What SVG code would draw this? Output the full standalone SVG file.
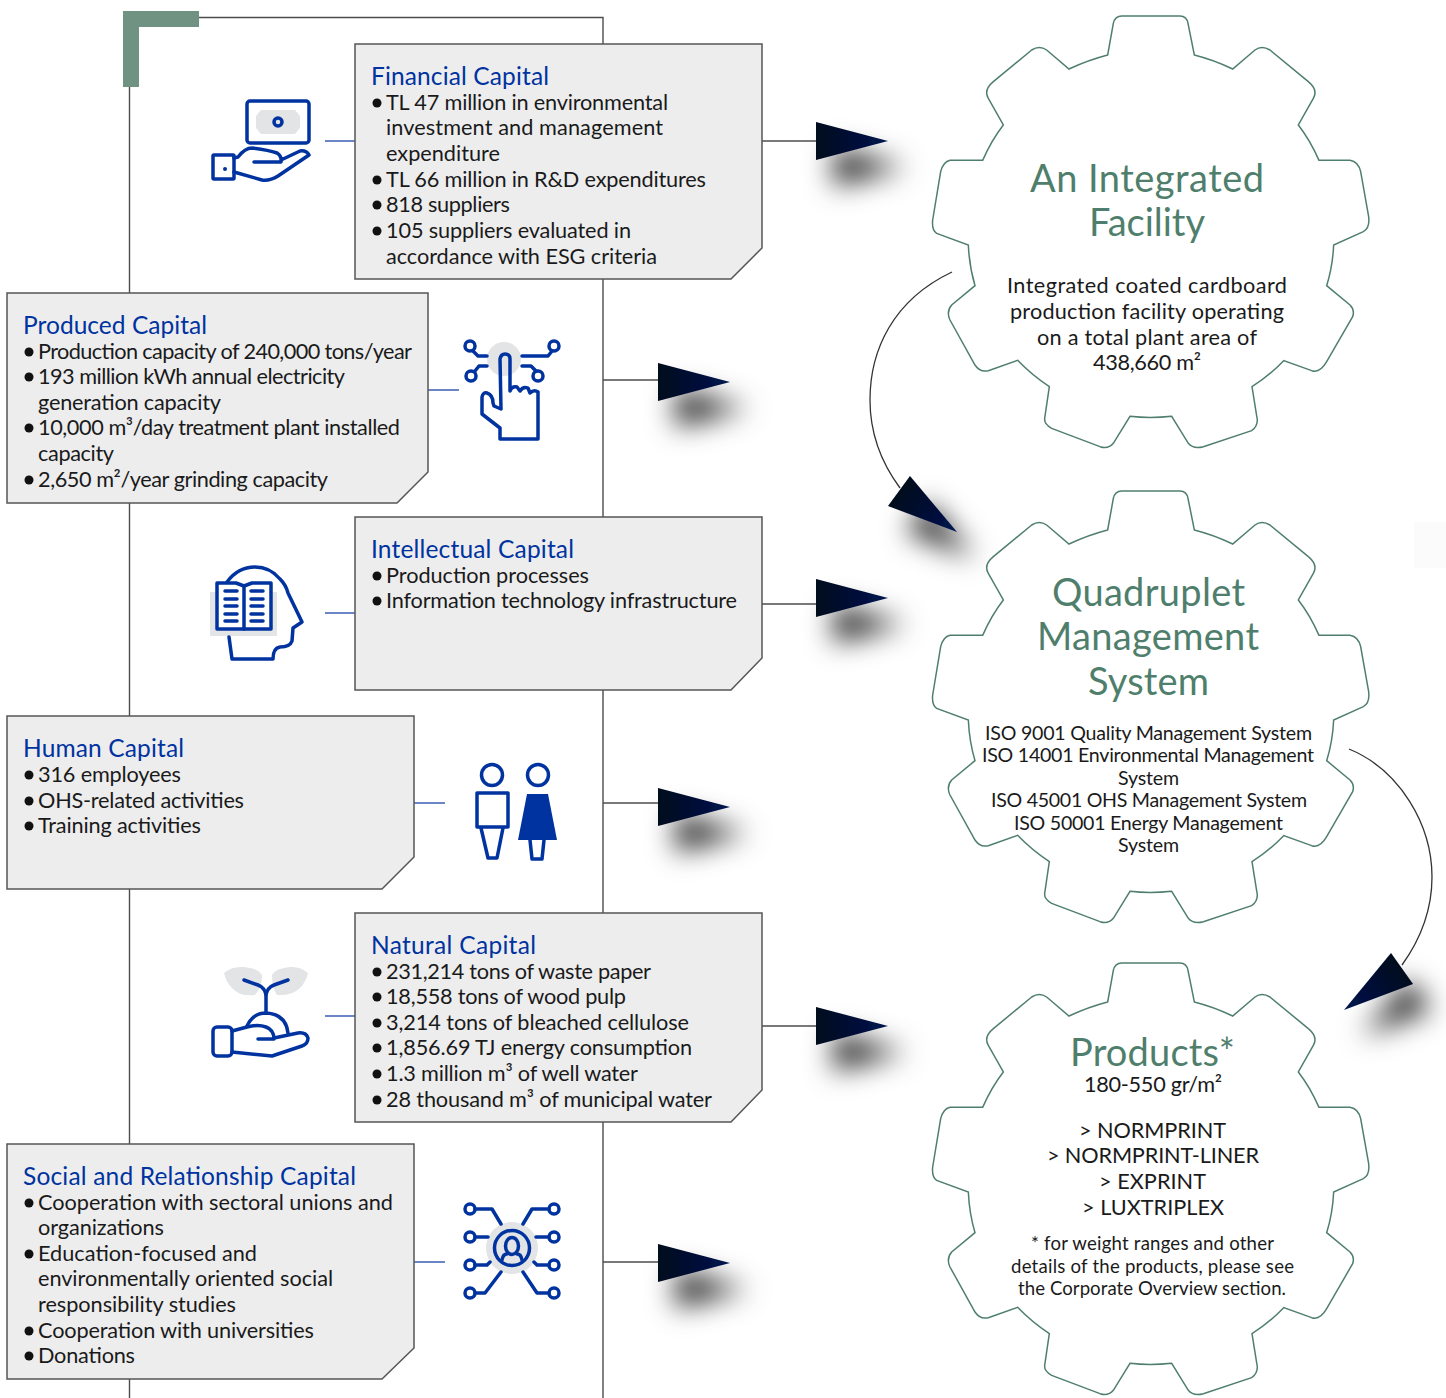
<svg xmlns="http://www.w3.org/2000/svg" xmlns:xlink="http://www.w3.org/1999/xlink" width="1446" height="1398" viewBox="0 0 1446 1398">
<style>
text{font-family:"Lato","Open Sans","Liberation Sans",sans-serif;fill:#1a1a1a;}
.t{font-size:24.5px;fill:#0033a0;}
.l{font-size:21.7px;}
.h{font-size:38px;fill:#4f7f6c;}
.m{font-size:21.7px;}
.s{font-size:19.6px;}
.x{font-size:18.6px;}
.box{fill:#ededee;stroke:#555;stroke-width:1.5;}
.gear{fill:#fff;stroke:#4f7f6c;stroke-width:4.5;}
.i{fill:none;stroke:#0033a0;stroke-width:3.5;stroke-linecap:round;stroke-linejoin:round;}
.iw{fill:#fff;stroke:#0033a0;stroke-width:3.5;stroke-linejoin:round;}
.g{fill:#e3e4e6;}
.v{fill:none;stroke:#4d4d4d;stroke-width:1.4;}
.b1{fill:none;stroke:#3a5fb5;stroke-width:1.5;}
.c{fill:none;stroke:#333;stroke-width:1.3;}
.b{fill:#111;}
</style>
<defs>
<linearGradient id="ag" x1="0" y1="0" x2="1" y2="0"><stop offset="0" stop-color="#00071c"/><stop offset="1" stop-color="#001550"/></linearGradient>
<linearGradient id="ag2" gradientUnits="userSpaceOnUse" x1="900" y1="490" x2="957" y2="532"><stop offset="0" stop-color="#00071c"/><stop offset="1" stop-color="#001550"/></linearGradient>
<linearGradient id="ag3" gradientUnits="userSpaceOnUse" x1="1400" y1="965" x2="1344" y2="1010"><stop offset="0" stop-color="#00071c"/><stop offset="1" stop-color="#001550"/></linearGradient>
<filter id="sh" x="-100%" y="-120%" width="320%" height="380%"><feDropShadow dx="18" dy="26" stdDeviation="14" flood-color="#000" flood-opacity=".85"/></filter>
<polygon id="ah" points="0,0 0,38 72,19" fill="url(#ag)" filter="url(#sh)"/>
<path id="gp" d="M563,165 L580,70 Q585,48 605,48 L780,48 Q800,48 804,70 L823,165 Q882,180 938,207 L1005,150 Q1025,135 1050,150 L1165,245 Q1195,270 1180,295 L1135,375 Q1170,420 1197,481 L1290,481 Q1315,485 1322,515 L1346,650 Q1350,685 1330,695 L1241,735 Q1238,800 1220,857 L1290,915 Q1305,930 1298,950 L1220,1085 Q1200,1120 1175,1112 L1091,1082 Q1050,1125 996,1160 L1012,1260 Q1012,1280 995,1292 L850,1340 Q820,1348 805,1330 L755,1249 Q690,1256 630,1249 L580,1330 Q565,1348 540,1340 L395,1285 Q372,1272 374,1255 L388,1160 Q335,1125 293,1081 L205,1112 Q180,1118 165,1095 L90,960 Q78,935 95,915 L165,857 Q148,800 145,735 L50,700 Q35,690 38,660 L62,515 Q70,485 90,481 L188,481 Q215,420 250,375 L205,295 Q190,270 220,245 L335,150 Q358,135 380,150 L447,207 Q505,180 563,165 Z"/>
</defs>

<rect x="1414" y="522" width="32" height="46" fill="#fbfbfb"/>

<g id="connectors">
<path class="v" d="M129.5,87V1398M199,17.5H603V1398"/>
<path class="v" d="M762,141H816M603,380H658M762,604H816M603,803H658M762,1026H816M603,1262H658"/>
<path class="b1" d="M325,141H355M428,390H459M325,613H355M414,803H445M325,1016H355M414,1262H445"/>
<path class="c" d="M952,272C893,300 870,350 870,400C870,435 883,465 900,488"/>
<path class="c" d="M1349,749C1400,770 1432,825 1432,877C1432,910 1420,940 1402,965"/>
<use xlink:href="#ah" href="#ah" x="816" y="122"/>
<use xlink:href="#ah" href="#ah" x="658" y="363"/>
<use xlink:href="#ah" href="#ah" x="816" y="579"/>
<use xlink:href="#ah" href="#ah" x="658" y="788"/>
<use xlink:href="#ah" href="#ah" x="816" y="1007"/>
<use xlink:href="#ah" href="#ah" x="658" y="1244"/>
<polygon points="910,476 888,506 957,532" fill="url(#ag2)" filter="url(#sh)"/>
<polygon points="1391,953 1413,984 1344,1010" fill="url(#ag3)" filter="url(#sh)"/>
</g>

<polygon id="corner" points="123,11 199,11 199,27 139,27 139,87 123,87" fill="#6f9282"/>

<g id="financial-capital">
<polygon class="box" points="355,44 762,44 762,248 731,279 355,279"/>
<text class="t" x="371" y="84.5" textLength="178">Financial Capital</text>
<circle class="b" cx="377" cy="103" r="4.5"/><circle class="b" cx="377" cy="180" r="4.5"/><circle class="b" cx="377" cy="205" r="4.5"/><circle class="b" cx="377" cy="231" r="4.5"/>
<text class="l" x="386" y="110.3" textLength="282">TL 47 million in environmental</text>
<text class="l" x="386" y="135.3" textLength="277">investment and management</text>
<text class="l" x="386" y="161.3" textLength="114">expenditure</text>
<text class="l" x="386" y="187.3" textLength="320">TL 66 million in R&amp;D expenditures</text>
<text class="l" x="386" y="212.3" textLength="124">818 suppliers</text>
<text class="l" x="386" y="238.3" textLength="245">105 suppliers evaluated in</text>
<text class="l" x="386" y="264.3" textLength="271">accordance with ESG criteria</text>
</g>
<g id="icon-financial">
<rect class="i" x="247" y="101" width="62" height="42" rx="3"/>
<polygon class="g" points="261,110 295,110 300,116 300,128 295,134 261,134 256,128 256,116"/>
<circle class="i" cx="278" cy="122" r="4"/>
<rect class="i" x="213" y="155" width="21" height="24" rx="1"/>
<circle cx="225" cy="169" r="2" fill="#0033a0"/>
<path class="i" d="M234,158L238,157Q245,148 252,148Q268,150 277,153Q282,156 281,162H254M281,160L300,151Q306,150 309,155L278,176Q270,181 262,180L234,172"/>
</g>

<g id="produced-capital">
<polygon class="box" points="7,293 428,293 428,472 397,503 7,503"/>
<text class="t" x="23" y="333.5" textLength="184">Produced Capital</text>
<circle class="b" cx="29" cy="352" r="4.5"/><circle class="b" cx="29" cy="377" r="4.5"/><circle class="b" cx="29" cy="428" r="4.5"/><circle class="b" cx="29" cy="480" r="4.5"/>
<text class="l" x="38" y="359.3" textLength="374">Production capacity of 240,000 tons/year</text>
<text class="l" x="38" y="384.3" textLength="307">193 million kWh annual electricity</text>
<text class="l" x="38" y="410.3" textLength="183">generation capacity</text>
<text class="l" x="38" y="435.3" textLength="362">10,000 m³/day treatment plant installed</text>
<text class="l" x="38" y="461.3" textLength="76">capacity</text>
<text class="l" x="38" y="487.3" textLength="290">2,650 m²/year grinding capacity</text>
</g>
<g id="icon-produced" transform="translate(0,1)">
<circle class="g" cx="504" cy="358" r="17"/>
<circle class="i" cx="470" cy="345" r="5"/><circle class="i" cx="554" cy="345" r="5"/><circle class="i" cx="471" cy="375" r="5"/><circle class="i" cx="538" cy="375" r="5"/>
<path class="i" d="M473,350L478,355H487M522,355H548L552,350M475,370L479,365H487M522,365H531L536,370"/>
<path class="i" d="M501,408L500,358Q501,353 505,353Q510,353 510,358L510,390Q512,385 517,386L520,390Q523,385 528,387L530,392Q534,388 538,391V438H500V427L482,413V396Q483,391 487,392Q493,394 493,402L494,405L501,408"/>
</g>

<g id="intellectual-capital">
<polygon class="box" points="355,517 762,517 762,658 731,690 355,690"/>
<text class="t" x="371" y="557.5" textLength="203">Intellectual Capital</text>
<circle class="b" cx="377" cy="576" r="4.5"/><circle class="b" cx="377" cy="601" r="4.5"/>
<text class="l" x="386" y="583.3" textLength="203">Production processes</text>
<text class="l" x="386" y="608.3" textLength="351">Information technology infrastructure</text>
</g>
<g id="icon-intellectual" transform="translate(0,1)">
<rect class="g" x="210" y="591" width="67" height="44"/>
<path class="i" d="M227,581Q238,566 255,566Q270,566 280,578Q286,584 288,592L302,621L293,627L292,640Q290,646 280,646Q273,647 273,658H232L229,636"/>
<path class="iw" d="M217,582H236L244,585L252,582H271V628H217Z"/>
<path class="i" d="M244,585V628M225,590H237M225,598H237M225,605H237M225,613H237M225,620H237M251,590H263M251,598H263M251,605H263M251,613H263M251,620H263"/>
</g>

<g id="human-capital">
<polygon class="box" points="7,716 414,716 414,857 382,889 7,889"/>
<text class="t" x="23" y="757" textLength="161">Human Capital</text>
<circle class="b" cx="29" cy="775" r="4.5"/><circle class="b" cx="29" cy="801" r="4.5"/><circle class="b" cx="29" cy="826" r="4.5"/>
<text class="l" x="38" y="782.3" textLength="143">316 employees</text>
<text class="l" x="38" y="808.3" textLength="206">OHS-related activities</text>
<text class="l" x="38" y="833.3" textLength="163">Training activities</text>
</g>
<g id="icon-human" transform="translate(0,1)">
<circle class="i" cx="492" cy="774" r="10.5"/><circle class="i" cx="538" cy="774" r="10.5"/>
<rect class="i" x="477" y="792" width="31" height="34"/>
<path class="i" d="M481,827L488,857H497L503,827"/>
<polygon points="527,793 548,793 557,839 518,839" fill="#0033a0"/>
<path class="i" d="M530,839L532,858H542L544,839"/>
</g>

<g id="natural-capital">
<polygon class="box" points="355,913 762,913 762,1090 731,1122 355,1122"/>
<text class="t" x="371" y="953.5" textLength="165">Natural Capital</text>
<circle class="b" cx="377" cy="972" r="4.5"/><circle class="b" cx="377" cy="997" r="4.5"/><circle class="b" cx="377" cy="1023" r="4.5"/><circle class="b" cx="377" cy="1048" r="4.5"/><circle class="b" cx="377" cy="1074" r="4.5"/><circle class="b" cx="377" cy="1100" r="4.5"/>
<text class="l" x="386" y="979.3" textLength="265">231,214 tons of waste paper</text>
<text class="l" x="386" y="1004.3" textLength="240">18,558 tons of wood pulp</text>
<text class="l" x="386" y="1030.3" textLength="303">3,214 tons of bleached cellulose</text>
<text class="l" x="386" y="1055.3" textLength="306">1,856.69 TJ energy consumption</text>
<text class="l" x="386" y="1081.3" textLength="252">1.3 million m³ of well water</text>
<text class="l" x="386" y="1107.3" textLength="326">28 thousand m³ of municipal water</text>
</g>
<g id="icon-natural">
<path class="g" d="M224,973Q232,966 243,967Q258,968 262,975Q262,988 255,995Q240,997 232,988Q226,982 224,973Z"/>
<path class="g" d="M308,973Q300,966 290,967Q276,968 272,975Q272,988 277,995Q292,996 300,988Q306,982 308,973Z"/>
<path class="i" d="M266,1013V997Q266,988 258,985L244,980M266,997Q266,988 274,985L288,980"/>
<path class="i" d="M247,1026Q253,1013 266,1013Q286,1014 288,1033"/>
<rect class="i" x="213" y="1027" width="19" height="29" rx="4"/>
<path class="i" d="M232,1031L247,1027Q258,1024 266,1027Q274,1030 274,1039H258M274,1038L298,1033Q306,1032 308,1038Q308,1044 302,1046L272,1056L232,1052"/>
</g>

<g id="social-capital">
<polygon class="box" points="7,1144 414,1144 414,1348 382,1379 7,1379"/>
<text class="t" x="23" y="1184.5" textLength="333">Social and Relationship Capital</text>
<circle class="b" cx="29" cy="1203" r="4.5"/><circle class="b" cx="29" cy="1254" r="4.5"/><circle class="b" cx="29" cy="1331" r="4.5"/><circle class="b" cx="29" cy="1356" r="4.5"/>
<text class="l" x="38" y="1210.3" textLength="355">Cooperation with sectoral unions and</text>
<text class="l" x="38" y="1235.3" textLength="126">organizations</text>
<text class="l" x="38" y="1261.3" textLength="219">Education-focused and</text>
<text class="l" x="38" y="1286.3" textLength="295">environmentally oriented social</text>
<text class="l" x="38" y="1312.3" textLength="198">responsibility studies</text>
<text class="l" x="38" y="1338.3" textLength="276">Cooperation with universities</text>
<text class="l" x="38" y="1363.3" textLength="97">Donations</text>
</g>
<g id="icon-social">
<circle class="g" cx="512" cy="1248" r="26"/>
<circle class="i" cx="512" cy="1248" r="17.5"/>
<ellipse class="i" cx="512" cy="1246" rx="6.5" ry="8.5"/>
<path class="i" d="M502,1260Q503,1254 507,1254M522,1260Q521,1254 517,1254"/>
<circle class="i" cx="470" cy="1209" r="5"/><circle class="i" cx="470" cy="1237" r="5"/><circle class="i" cx="470" cy="1265" r="5"/><circle class="i" cx="470" cy="1293" r="5"/>
<circle class="i" cx="554" cy="1209" r="5"/><circle class="i" cx="554" cy="1237" r="5"/><circle class="i" cx="554" cy="1265" r="5"/><circle class="i" cx="554" cy="1293" r="5"/>
<path class="i" d="M475,1209H492L501,1224M549,1209H532L523,1224M475,1237H488M549,1237H536M475,1265H487L490,1262M549,1265H537L534,1262M475,1293H485L501,1272M549,1293H537L523,1272"/>
</g>

<g id="integrated-facility">
<use xlink:href="#gp" href="#gp" class="gear" transform="translate(920,0) scale(.33333)"/>
<text class="h" x="1030" y="192" textLength="234">An Integrated</text>
<text class="h" x="1089" y="236" textLength="116">Facility</text>
<text class="m" x="1007" y="293" textLength="280">Integrated coated cardboard</text>
<text class="m" x="1010" y="319" textLength="274">production facility operating</text>
<text class="m" x="1037" y="345" textLength="220">on a total plant area of</text>
<text class="m" x="1093" y="370" textLength="108">438,660 m²</text>
</g>

<g id="management-system">
<use xlink:href="#gp" href="#gp" class="gear" transform="translate(920,475) scale(.33333)"/>
<text class="h" x="1052" y="606" textLength="193">Quadruplet</text>
<text class="h" x="1037" y="650" textLength="222">Management</text>
<text class="h" x="1088" y="695" textLength="121">System</text>
<text class="s" x="985" y="740" textLength="327">ISO 9001 Quality Management System</text>
<text class="s" x="982" y="762" textLength="332">ISO 14001 Environmental Management</text>
<text class="s" x="1118" y="785" textLength="61">System</text>
<text class="s" x="991" y="807" textLength="316">ISO 45001 OHS Management System</text>
<text class="s" x="1014" y="830" textLength="269">ISO 50001 Energy Management</text>
<text class="s" x="1118" y="852" textLength="61">System</text>
</g>

<g id="products">
<use xlink:href="#gp" href="#gp" class="gear" transform="translate(920,947) scale(.33333)"/>
<text class="h" x="1070" y="1065.5" textLength="165">Products*</text>
<text class="m" x="1084" y="1092" textLength="138">180-550 gr/m²</text>
<text class="m" x="1079" y="1138" textLength="147">&gt; NORMPRINT</text>
<text class="m" x="1047" y="1163" textLength="212">&gt; NORMPRINT-LINER</text>
<text class="m" x="1099" y="1189" textLength="107">&gt; EXPRINT</text>
<text class="m" x="1082" y="1215" textLength="142">&gt; LUXTRIPLEX</text>
<text class="x" x="1031" y="1250" textLength="243">* for weight ranges and other</text>
<text class="x" x="1011" y="1273" textLength="283">details of the products, please see</text>
<text class="x" x="1018" y="1295" textLength="268">the Corporate Overview section.</text>
</g>
</svg>
